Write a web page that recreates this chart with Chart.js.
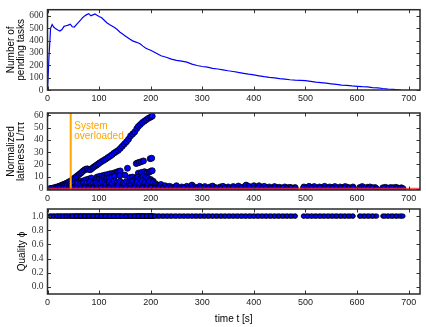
<!DOCTYPE html>
<html lang="en">
<head>
<meta charset="utf-8" />
<title>Pending tasks, lateness and quality</title>
<style>
  html, body { margin: 0; padding: 0; background: #fff; overflow: hidden; }
  .stack { position: relative; width: 426px; height: 327px; }
  .stack canvas { position: absolute; left: 0; top: 0; }
</style>
</head>
<body>
<div class="stack">
  <canvas id="pending" width="426" height="327"></canvas>
  <canvas id="lateness" width="426" height="327"></canvas>
  <canvas id="quality" width="426" height="327"></canvas>
</div>
<script src="https://cdn.jsdelivr.net/npm/chart.js/dist/chart.umd.min.js"></script>
<script>
// ---- data ----
const timeTicks = [0, 100, 200, 300, 400, 500, 600, 700];
const pendingTicks = [0, 100, 200, 300, 400, 500, 600];
const latenessTicks = [0, 10, 20, 30, 40, 50, 60];
const qualityTicks = [0.0, 0.2, 0.4, 0.6, 0.8, 1.0];

const pendingTime = [0, 3, 6, 9, 12, 16, 20, 24, 28, 32, 36, 40, 44, 48, 52, 56, 60, 64, 68, 72, 76, 80, 84, 88, 92, 96, 100,
  105, 110, 115, 120, 125, 130, 135, 140, 145, 150, 155, 160, 165, 170, 175, 180, 185, 190, 195, 200,
  210, 220, 230, 240, 250, 260, 270, 280, 290, 300, 310, 320, 330, 340, 350, 360, 370, 380, 390, 400,
  410, 420, 430, 440, 450, 460, 470, 480, 490, 500, 510, 520, 530, 540, 550, 560, 570, 580, 590, 600,
  610, 620, 630, 640, 650, 660, 670, 680, 685];
const pendingTasks = [0, 280, 500, 530, 510, 495, 485, 478, 490, 515, 520, 525, 533, 512, 510, 530, 548, 565, 585, 600, 610, 618, 600, 608, 615, 605, 595,
  585, 565, 545, 530, 518, 505, 490, 470, 455, 440, 425, 410, 398, 390, 382, 372, 355, 340, 330, 322,
  300, 277, 265, 250, 240, 233, 225, 210, 198, 190, 185, 175, 170, 163, 156, 150, 142, 135, 128, 122,
  115, 108, 102, 98, 92, 88, 83, 80, 78, 76, 70, 64, 60, 55, 50, 45, 40, 37, 33, 30,
  27, 25, 20, 17, 12, 8, 5, 2, 0];

// [time, normalized lateness] per finished task, grouped by visible streak
const lateRamp = [[4,0],[7,0.3],[10,0.5],[13,0.8],[16,1.2],[19,1.5],[22,2],[25,2.4],[28,3],[31,3.5],[34,4],[37,4.6],[40,5.2],[43,6],
  [20,0.8],[26,1.2],[33,2],[38,2.6],[44,3.5],[6,0],[12,0.2],[18,0],[24,0.4],[30,0.1],[36,0.6],[42,0.3]];
const lateMain = [[47,7],[50,8],[53,9],[56,10],[59,11],[62,12],[65,13],[68,14.2],[71,15.2],[74,16],[77,16.3],[80,15.8],[83,15.6],
  [86,16.6],[89,17.6],[92,18.5],[95,19.3],[98,20.2],[101,21.2],[105,22.3],[109,23.3],[113,24.3],[117,25.5],[121,26.6],[125,27.8],
  [129,29.2],[133,30.3],[137,31.4],[141,33],[145,34.8],[149,36.6],[153,38.4],[157,40.5],[161,43.2],[165,44.8],[169,46.5],[173,49.2],
  [176,51],[180,52.6],[184,54.2],[188,55.4],[192,56.6],[196,57.8],[200,58.6],[203,59.4]];
const lateUpper = [[155,16.8],[172,20.6],[175,21.2],[178,21.6],[182,22.2],[186,22.8],[199,24.6],[202,25]];
const lateMiddle = [[96,9.6],[101,10.2],[106,10.6],[111,11.2],[116,11.6],[121,12.2],[126,12.6],[131,13.2],[135,13.8],[138,14.2],
  [141,14.6],[176,12.8],[182,13.4],[188,14],[193,13.2],[197,13.6],[200,14.4],[203,14.8]];
const lateLower = [[55,5],[60,5.6],[65,6.2],[70,6.6],[75,7.4],[80,8],[85,8.8],[90,6.6],[95,7.2],[100,7.6],[105,8.2],[110,8.6],
  [115,8.4],[120,9.2],[125,9.6],[130,10.2],[140,10.6],[150,11.2],[160,9.2],[165,9.6],[170,8.2],[175,9.6],[180,8.2],[185,10.2],
  [190,9.2],[195,8.6],[200,7.6],[205,6.2]];
const lateDense = [[46,2.5],[50,3.5],[52,1.5],[56,3],[58,4.5],[62,2],[64,4],[68,3],[70,5],[73,2.5],[76,4.5],[79,1.5],[82,5.5],
  [85,3],[88,4.5],[91,2],[94,5],[97,3.5],[100,1.5],[103,4.5],[106,6],[108,2.5],[111,5],[114,3.5],[117,1.5],[120,5.5],[123,3],
  [126,4.5],[129,6.5],[132,2],[135,5],[138,3.5],[141,6],[144,1.5],[147,4.5],[150,3],[153,6],[156,2],[159,5],[162,3.5],[165,6],
  [168,1.5],[171,4],[174,5.5],[177,2.5],[180,4.5],[183,6.5],[186,3],[189,5],[192,2],[195,4],[198,6],[201,3],[204,5],[207,2],
  [210,4],[213,3],[216,2],[220,3.5],[224,1.5],[228,2.5],[232,1],[236,2],[240,1.5]];
const lateTail = [[245,1],[250,2.5],[255,0.5],[260,1.5],[265,0.8],[270,2],[275,1],[280,3],[285,1.5],[290,0.5],[295,2],[300,1],
  [305,1.8],[310,0.5],[315,1.5],[320,2.2],[325,1],[330,0.5],[335,1.5],[340,2],[345,0.8],[350,1.5],[355,0.5],[360,1.8],[365,1],
  [370,2.2],[375,0.8],[380,1.5],[385,3],[390,2],[395,1],[400,2.5],[405,1.2],[410,2.5],[415,1],[420,2],[425,0.8],[430,1.5],
  [435,0.5],[440,1.8],[445,1],[450,1.2],[455,0.5],[460,1.5],[465,0.8],[470,1.2],[475,0.6],[480,1],[497,1.5],[502,0.8],[507,2],
  [512,1],[517,1.8],[522,0.6],[527,1.5],[532,1],[537,2],[542,0.8],[547,1.5],[552,1],[557,1.8],[562,0.5],[567,1.5],[572,1],
  [577,1.8],[582,1.2],[587,0.6],[592,1.5],[605,1],[610,1.8],[615,0.6],[620,1.2],[625,1.5],[630,0.8],[635,1],[650,0.8],[655,1.2],
  [660,0.5],[665,1],[670,0.8],[675,1.2],[680,0.6],[686,0.8]];
const lateBaseline = [[48,0],[56,0.3],[64,0.1],[72,0.5],[80,0],[88,0.3],[96,0.1],[104,0.4],[112,0],[120,0.3],[128,0.1],[136,0.5],
  [144,0],[152,0.3],[160,0.1],[168,0.4],[176,0],[184,0.3],[192,0.1],[200,0.5],[208,0],[216,0.3],[224,0.1],[232,0.4],[240,0],
  [248,0.3],[256,0.1],[264,0.5],[272,0],[280,0.3],[288,0.1],[296,0.4],[304,0],[312,0.3],[320,0.1],[328,0.5],[336,0],[344,0.3],
  [352,0.1],[360,0.4],[368,0],[376,0.3],[384,0.1],[392,0.5],[400,0],[408,0.3],[416,0.1],[424,0.4],[432,0],[440,0.3],[448,0.1],
  [456,0.5],[464,0],[472,0.3],[480,0.1],[496,0.4],[504,0],[512,0.3],[520,0.1],[528,0.5],[536,0],[544,0.3],[552,0.1],[560,0.4],
  [568,0],[576,0.3],[584,0.1],[592,0.5],[606,0],[614,0.3],[622,0.1],[630,0.4],[638,0],[652,0.3],[660,0.1],[668,0.5],[676,0],
  [684,0.3],[689,0.1]];

const overloadTime = 45;         // vertical "System overloaded" marker
const overloadText = ['System', 'overloaded'];
const overloadTextLevel = [51.5, 43.2];
const deadlineLevel = 0;         // red reference line
const qualityLevel = 1.0;        // every task finished at full quality

const timeMax = 722;

// ---- styling ----
const SANS = '"Liberation Sans", Arial, Helvetica, sans-serif';
const SERIF = '"Liberation Serif", "DejaVu Serif", serif';
const BLUE = '#0000ff';
const ORANGE = '#ffa500';

const lateness = [].concat(lateRamp, lateMain, lateUpper, lateMiddle, lateLower, lateDense, lateTail, lateBaseline);

// frame round the plot area and matplotlib-like inward ticks
const frameTicks = {
  id: 'frameTicks',
  afterDraw(chart) {
    const { ctx, chartArea: a, scales: { x, y } } = chart;
    ctx.save();
    ctx.strokeStyle = '#333';
    ctx.lineWidth = 1;
    ctx.beginPath();
    x.ticks.forEach(t => {
      const px = Math.round(x.getPixelForValue(t.value)) + 0.5;
      ctx.moveTo(px, a.bottom); ctx.lineTo(px, a.bottom - 3.5);
      ctx.moveTo(px, a.top); ctx.lineTo(px, a.top + 3.5);
    });
    y.ticks.forEach(t => {
      const py = Math.round(y.getPixelForValue(t.value)) + 0.5;
      ctx.moveTo(a.left, py); ctx.lineTo(a.left + 3.5, py);
      ctx.moveTo(a.right, py); ctx.lineTo(a.right - 3.5, py);
    });
    ctx.stroke();
    ctx.lineWidth = 1.5;
    ctx.strokeStyle = '#2a2a2a';
    ctx.strokeRect(a.left, a.top, a.right - a.left, a.bottom - a.top);
    ctx.restore();
  }
};

const overloadLabel = {
  id: 'overloadLabel',
  afterDatasetsDraw(chart) {
    const { ctx, scales: { x, y } } = chart;
    const left = x.getPixelForValue(overloadTime) + 3.5;
    ctx.save();
    ctx.fillStyle = ORANGE;
    ctx.font = '10px ' + SANS;
    ctx.textBaseline = 'middle';
    overloadText.forEach((line, i) => ctx.fillText(line, left, y.getPixelForValue(overloadTextLevel[i])));
    ctx.restore();
  }
};

function panel(p) {
  return {
    responsive: false,
    animation: false,
    devicePixelRatio: 1,
    layout: { padding: { left: 0, right: 6, top: p.top, bottom: p.bottom } },
    plugins: { legend: { display: false }, tooltip: { enabled: false } },
    scales: {
      x: {
        type: 'linear', min: 0, max: timeMax,
        afterBuildTicks: s => { s.ticks = timeTicks.map(v => ({ value: v })); },
        afterFit: s => { s.height = p.xHeight; },
        grid: { display: false, drawTicks: false },
        border: { display: false },
        ticks: { padding: 3, autoSkip: false, maxRotation: 0, color: '#222', font: { family: SANS, size: 9 },
                 callback: v => String(v) },
        title: p.xTitle
          ? { display: true, text: p.xTitle, color: '#000', font: { family: SANS, size: 10 }, padding: { top: 0, bottom: 2 } }
          : { display: false }
      },
      y: {
        type: 'linear', min: p.yMin, max: p.yMax,
        afterBuildTicks: s => { s.ticks = p.yTicks.map(v => ({ value: v })); },
        afterFit: s => { s.width = 47.5; },
        grid: { display: false, drawTicks: false },
        border: { display: false },
        ticks: { padding: 4, autoSkip: false, color: '#333', font: { family: SERIF, size: 9.5 },
                 callback: p.yFormat || (v => String(v)) },
        title: { display: true, text: p.yTitle, color: '#000', font: { family: SANS, size: 10, lineHeight: 1 },
                 padding: { top: p.titlePad, bottom: 0 } }
      }
    }
  };
}

new Chart(document.getElementById('pending'), {
  type: 'scatter',
  data: {
    datasets: [{
      data: pendingTime.map((t, i) => ({ x: t, y: pendingTasks[i] })),
      showLine: true, pointRadius: 0, borderColor: BLUE, borderWidth: 1.2, tension: 0
    }]
  },
  options: panel({ top: 5, bottom: 225, xHeight: 12, yMin: 0, yMax: 650, yTicks: pendingTicks,
                   yTitle: ['Number of', 'pending tasks'], titlePad: 6.5 }),
  plugins: [frameTicks]
});

new Chart(document.getElementById('lateness'), {
  type: 'scatter',
  data: {
    datasets: [
      { data: [{ x: 0, y: deadlineLevel }, { x: timeMax, y: deadlineLevel }], showLine: true, pointRadius: 0,
        borderColor: 'rgba(255, 40, 40, 0.75)', borderWidth: 2, order: 0 },
      { data: [{ x: overloadTime, y: -1 }, { x: overloadTime, y: 62 }], showLine: true, pointRadius: 0,
        borderColor: ORANGE, borderWidth: 2, order: 0 },
      { data: lateness.map(([t, v]) => ({ x: t, y: v })), pointRadius: 3, pointBackgroundColor: BLUE,
        pointBorderColor: '#000', pointBorderWidth: 0.8, order: 1 }
    ]
  },
  options: panel({ top: 113, bottom: 125, xHeight: 12, yMin: -1, yMax: 62, yTicks: latenessTicks,
                   yTitle: ['Normalized', 'lateness L/πτ'], titlePad: 6.5 }),
  plugins: [frameTicks, overloadLabel]
});

new Chart(document.getElementById('quality'), {
  type: 'scatter',
  data: {
    datasets: [{
      data: lateness.map(([t]) => ({ x: t, y: qualityLevel })), pointRadius: 2.2, pointBackgroundColor: BLUE,
      pointBorderColor: '#000', pointBorderWidth: 0.8
    }]
  },
  options: panel({ top: 209, bottom: 0, xHeight: 33, xTitle: 'time t [s]', yMin: -0.1, yMax: 1.1, yTicks: qualityTicks,
                   yFormat: v => v.toFixed(1), yTitle: 'Quality ϕ', titlePad: 17 }),
  plugins: [frameTicks]
});
</script>
</body>
</html>
